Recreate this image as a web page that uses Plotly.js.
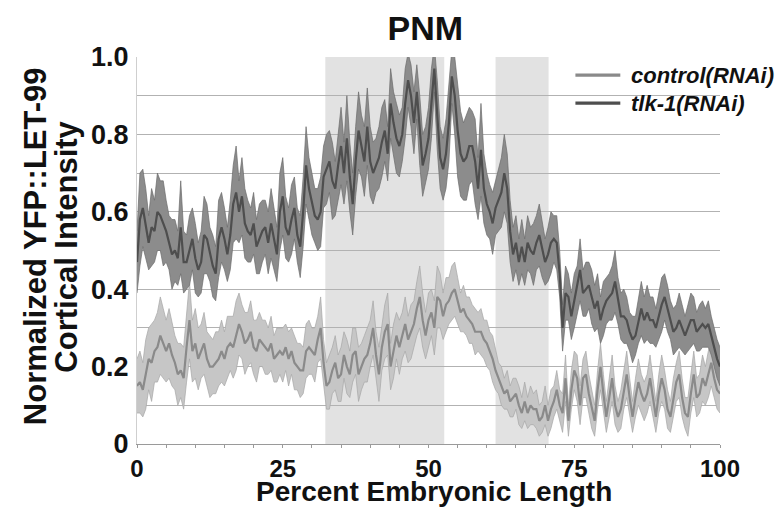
<!DOCTYPE html>
<html>
<head>
<meta charset="utf-8">
<script src="https://cdn.plot.ly/plotly-3.0.1.min.js"></script>
<style>html,body{margin:0;padding:0;background:#fff;}#chart{width:776px;height:526px;}</style>
</head>
<body>
<div id="chart"></div>
<script>
// Percent embryonic length sampled every 0.5 from 0 to 100
const xStart = 0;
const xStep = 0.5;

const tlkMean = [
0.47,0.58,0.61,0.57,0.52,0.56,0.55,0.60,0.59,0.57,
0.55,0.52,0.49,0.50,0.48,0.56,0.47,0.47,0.50,0.53,
0.48,0.45,0.47,0.54,0.53,0.49,0.46,0.44,0.53,0.56,
0.53,0.49,0.54,0.62,0.65,0.60,0.64,0.57,0.55,0.54,
0.57,0.51,0.53,0.55,0.56,0.52,0.57,0.53,0.49,0.60,
0.64,0.56,0.54,0.58,0.61,0.54,0.51,0.60,0.72,0.66,
0.62,0.59,0.58,0.60,0.69,0.71,0.73,0.68,0.66,0.72,
0.77,0.70,0.79,0.69,0.62,0.73,0.81,0.77,0.73,0.82,
0.73,0.70,0.72,0.74,0.78,0.81,0.75,0.88,0.83,0.79,
0.77,0.80,0.88,0.94,0.90,0.83,0.91,0.81,0.72,0.75,
0.79,0.88,0.97,0.85,0.74,0.71,0.75,0.83,0.95,0.90,
0.81,0.75,0.73,0.74,0.77,0.77,0.73,0.66,0.76,0.66,
0.62,0.60,0.57,0.61,0.63,0.65,0.70,0.66,0.55,0.49,
0.52,0.47,0.51,0.47,0.52,0.50,0.49,0.52,0.54,0.50,
0.47,0.49,0.52,0.53,0.52,0.44,0.30,0.39,0.38,0.33,
0.37,0.40,0.45,0.39,0.40,0.41,0.38,0.35,0.37,0.32,
0.35,0.37,0.38,0.39,0.42,0.37,0.33,0.33,0.32,0.29,
0.27,0.28,0.32,0.35,0.32,0.34,0.32,0.32,0.30,0.33,
0.36,0.38,0.35,0.32,0.29,0.30,0.32,0.30,0.28,0.30,
0.32,0.32,0.29,0.30,0.31,0.30,0.31,0.28,0.25,0.22,
0.20];

const tlkErr = [
0.08,0.12,0.10,0.09,0.07,0.10,0.08,0.10,0.09,0.11,
0.08,0.07,0.09,0.08,0.07,0.12,0.08,0.07,0.09,0.08,
0.09,0.07,0.08,0.10,0.09,0.07,0.08,0.07,0.10,0.09,
0.08,0.07,0.09,0.10,0.12,0.08,0.10,0.09,0.08,0.07,
0.08,0.07,0.09,0.08,0.07,0.08,0.09,0.08,0.07,0.10,
0.10,0.08,0.07,0.09,0.08,0.07,0.08,0.09,0.10,0.08,
0.08,0.07,0.08,0.09,0.08,0.09,0.08,0.10,0.07,0.09,
0.10,0.08,0.11,0.09,0.08,0.09,0.10,0.08,0.09,0.10,
0.09,0.08,0.07,0.08,0.09,0.08,0.07,0.09,0.08,0.09,
0.08,0.07,0.09,0.07,0.08,0.08,0.07,0.09,0.08,0.07,
0.08,0.09,0.06,0.09,0.08,0.08,0.09,0.10,0.07,0.10,
0.12,0.11,0.10,0.11,0.10,0.09,0.11,0.08,0.12,0.09,
0.08,0.07,0.08,0.07,0.08,0.09,0.10,0.09,0.08,0.07,
0.07,0.06,0.07,0.06,0.07,0.06,0.08,0.07,0.08,0.07,
0.06,0.07,0.08,0.06,0.07,0.06,0.06,0.07,0.06,0.06,
0.07,0.06,0.08,0.06,0.07,0.06,0.07,0.06,0.07,0.06,
0.07,0.06,0.06,0.07,0.08,0.06,0.06,0.07,0.06,0.05,
0.06,0.05,0.06,0.07,0.06,0.07,0.06,0.06,0.05,0.06,
0.07,0.06,0.06,0.05,0.06,0.06,0.07,0.06,0.05,0.06,
0.07,0.06,0.05,0.06,0.06,0.05,0.06,0.05,0.05,0.05,
0.05];

const ctrlMean = [
0.15,0.16,0.14,0.18,0.22,0.21,0.24,0.25,0.28,0.26,
0.24,0.26,0.23,0.21,0.18,0.19,0.17,0.25,0.32,0.24,
0.26,0.22,0.24,0.26,0.22,0.20,0.20,0.21,0.22,0.24,
0.22,0.25,0.26,0.25,0.28,0.31,0.29,0.26,0.27,0.29,
0.25,0.24,0.27,0.26,0.25,0.24,0.26,0.22,0.23,0.24,
0.23,0.25,0.22,0.24,0.21,0.20,0.19,0.19,0.24,0.25,
0.24,0.23,0.27,0.30,0.21,0.15,0.16,0.19,0.21,0.17,
0.18,0.23,0.20,0.18,0.23,0.24,0.18,0.20,0.22,0.23,
0.26,0.30,0.23,0.18,0.25,0.29,0.31,0.20,0.24,0.28,
0.25,0.28,0.31,0.27,0.29,0.31,0.35,0.38,0.32,0.28,
0.32,0.34,0.30,0.38,0.37,0.33,0.36,0.37,0.39,0.40,
0.37,0.34,0.35,0.33,0.32,0.31,0.29,0.29,0.29,0.27,
0.26,0.24,0.22,0.19,0.17,0.15,0.13,0.14,0.11,0.12,
0.13,0.10,0.08,0.11,0.08,0.10,0.09,0.09,0.06,0.07,
0.10,0.06,0.09,0.11,0.14,0.10,0.08,0.17,0.06,0.14,
0.19,0.17,0.10,0.17,0.18,0.13,0.09,0.06,0.14,0.20,
0.13,0.07,0.12,0.17,0.10,0.07,0.09,0.14,0.18,0.12,
0.07,0.12,0.16,0.13,0.11,0.13,0.17,0.12,0.07,0.13,
0.17,0.14,0.09,0.07,0.12,0.16,0.18,0.12,0.08,0.07,
0.13,0.18,0.12,0.13,0.17,0.15,0.18,0.21,0.17,0.14,
0.13];

const ctrlErr = [
0.07,0.08,0.07,0.09,0.08,0.10,0.08,0.09,0.10,0.09,
0.08,0.09,0.08,0.07,0.08,0.07,0.08,0.09,0.10,0.08,
0.09,0.08,0.07,0.08,0.07,0.08,0.07,0.08,0.07,0.08,
0.07,0.08,0.07,0.08,0.09,0.08,0.07,0.08,0.07,0.08,
0.07,0.08,0.07,0.06,0.07,0.06,0.07,0.06,0.07,0.06,
0.07,0.06,0.07,0.06,0.07,0.06,0.07,0.06,0.07,0.07,
0.06,0.07,0.06,0.08,0.06,0.06,0.07,0.06,0.07,0.06,
0.07,0.06,0.07,0.06,0.07,0.06,0.07,0.06,0.06,0.07,
0.06,0.07,0.06,0.07,0.06,0.07,0.08,0.06,0.07,0.06,
0.07,0.06,0.07,0.06,0.07,0.06,0.07,0.08,0.07,0.06,
0.07,0.06,0.07,0.08,0.07,0.06,0.07,0.06,0.07,0.07,
0.06,0.05,0.06,0.05,0.06,0.05,0.06,0.05,0.06,0.05,
0.06,0.05,0.06,0.05,0.04,0.05,0.04,0.05,0.04,0.05,
0.04,0.05,0.04,0.05,0.04,0.05,0.04,0.05,0.04,0.04,
0.05,0.04,0.05,0.04,0.05,0.04,0.05,0.06,0.04,0.05,
0.05,0.06,0.05,0.05,0.06,0.05,0.05,0.04,0.05,0.06,
0.05,0.04,0.05,0.06,0.05,0.04,0.05,0.05,0.06,0.05,
0.04,0.05,0.06,0.05,0.05,0.05,0.06,0.05,0.04,0.05,
0.06,0.05,0.05,0.04,0.05,0.05,0.06,0.05,0.04,0.05,
0.05,0.06,0.05,0.05,0.06,0.05,0.06,0.06,0.05,0.05,
0.05];

// shaded phase windows (percent embryonic length)
const shadeStart = [32.3, 61.5];
const shadeEnd = [52.7, 70.6];

const xTickVals = [0, 25, 50, 75, 100];
const xTickText = ["0", "25", "50", "75", "100"];
const yTickVals = [0, 0.1, 0.2, 0.3, 0.4, 0.5, 0.6, 0.7, 0.8, 0.9, 1.0];
const yTickText = ["0", "", "0.2", "", "0.4", "", "0.6", "", "0.8", "", "1.0"];

const seriesNames = ["control(RNAi)", "tlk-1(RNAi)"];
const lineColors = ['#8a8a8a', '#4e4e4e'];

const FONT = "Liberation Sans, Arial, Helvetica, sans-serif";

function band(mean, err, sign) { return mean.map((m, i) => m + sign * err[i]); }

function series(mean, err, name, lineColor, fillColor, edgeColor) {
  return [
    {x0: xStart, dx: xStep, y: band(mean, err, -1), type: 'scatter', mode: 'lines',
     line: {color: edgeColor, width: 0.7}, showlegend: false, hoverinfo: 'skip'},
    {x0: xStart, dx: xStep, y: band(mean, err, 1), type: 'scatter', mode: 'lines',
     fill: 'tonexty', fillcolor: fillColor,
     line: {color: edgeColor, width: 0.7}, showlegend: false, hoverinfo: 'skip'},
    {x0: xStart, dx: xStep, y: mean, type: 'scatter', mode: 'lines', name: name,
     line: {color: lineColor, width: 2.2}, showlegend: false}
  ];
}

const traces = [].concat(
  series(ctrlMean, ctrlErr, seriesNames[0], lineColors[0], '#c6c6c6', '#a6a6a6'),
  series(tlkMean, tlkErr, seriesNames[1], lineColors[1], '#8c8c8c', '#6c6c6c')
);

const shapes = shadeStart.map((s, i) => ({
  type: 'rect', xref: 'x', yref: 'y', x0: s, x1: shadeEnd[i], y0: 0, y1: 1,
  fillcolor: '#e2e2e2', line: {width: 0}, layer: 'below'
}));

// legend box (white, covers gridlines) with line samples
const legendRowsY = [0.953, 0.881];
shapes.push({type: 'rect', xref: 'paper', yref: 'paper', x0: 0.744, x1: 1.0, y0: 0.842, y1: 0.99,
             fillcolor: '#fff', line: {width: 0}, layer: 'between'});
seriesNames.forEach((n, i) => {
  shapes.push({type: 'line', xref: 'paper', yref: 'paper', x0: 0.752, x1: 0.829,
               y0: legendRowsY[i], y1: legendRowsY[i], line: {color: lineColors[i], width: 3.2}, layer: 'above'});
});

const annotations = [
  {text: 'Normalized YFP::LET-99', xref: 'paper', yref: 'paper', x: -0.174, y: 0.51,
   xanchor: 'center', yanchor: 'middle', textangle: -90, showarrow: false,
   font: {family: FONT, size: 31, weight: 'bold', color: '#111'}},
  {text: 'Cortical Intensity', xref: 'paper', yref: 'paper', x: -0.12, y: 0.51,
   xanchor: 'center', yanchor: 'middle', textangle: -90, showarrow: false,
   font: {family: FONT, size: 31, weight: 'bold', color: '#111'}},
  {text: 'Percent Embryonic Length', xref: 'paper', yref: 'paper', x: 0.509, y: -0.122,
   xanchor: 'center', yanchor: 'middle', showarrow: false,
   font: {family: FONT, size: 28, weight: 'bold', color: '#111'}}
];
seriesNames.forEach((n, i) => {
  annotations.push({text: n, xref: 'paper', yref: 'paper', x: 0.844, y: legendRowsY[i],
    xanchor: 'left', yanchor: 'middle', showarrow: false,
    font: {family: FONT, size: 22, weight: 'bold', style: 'italic', color: '#111'}});
});

const layout = {
  width: 776, height: 526,
  margin: {l: 137, r: 56, t: 57, b: 82},
  paper_bgcolor: '#fff', plot_bgcolor: 'rgba(0,0,0,0)',
  font: {family: FONT, color: '#111'},
  title: {text: 'PNM', font: {family: FONT, size: 34, weight: 'bold', color: '#111'},
          x: 0.548, xref: 'container', xanchor: 'center', y: 0.947, yref: 'container', yanchor: 'middle'},
  showlegend: false,
  xaxis: {range: [0, 100], tickvals: xTickVals, ticktext: xTickText, automargin: false,
          tickfont: {family: FONT, size: 24, weight: 'bold', color: '#111'},
          showgrid: false, zeroline: false, showline: true, linecolor: '#9a9a9a', linewidth: 1,
          ticks: 'outside', ticklen: 3, tickcolor: '#9a9a9a', ticklabelstandoff: 0,
          minor: {dtick: 5, ticks: 'outside', ticklen: 3, tickcolor: '#9a9a9a', showgrid: false},
          fixedrange: true},
  yaxis: {range: [0, 1], tickvals: yTickVals, ticktext: yTickText, automargin: false,
          tickfont: {family: FONT, size: 27, weight: 'bold', color: '#111'},
          showgrid: true, gridcolor: '#b2b2b2', gridwidth: 1, zeroline: false,
          showline: true, linecolor: '#cfcfcf', linewidth: 1, ticks: '', ticklabelstandoff: 2,
          fixedrange: true},
  shapes: shapes,
  annotations: annotations
};

Plotly.newPlot('chart', traces, layout, {displayModeBar: false, staticPlot: true});
</script>
</body>
</html>
